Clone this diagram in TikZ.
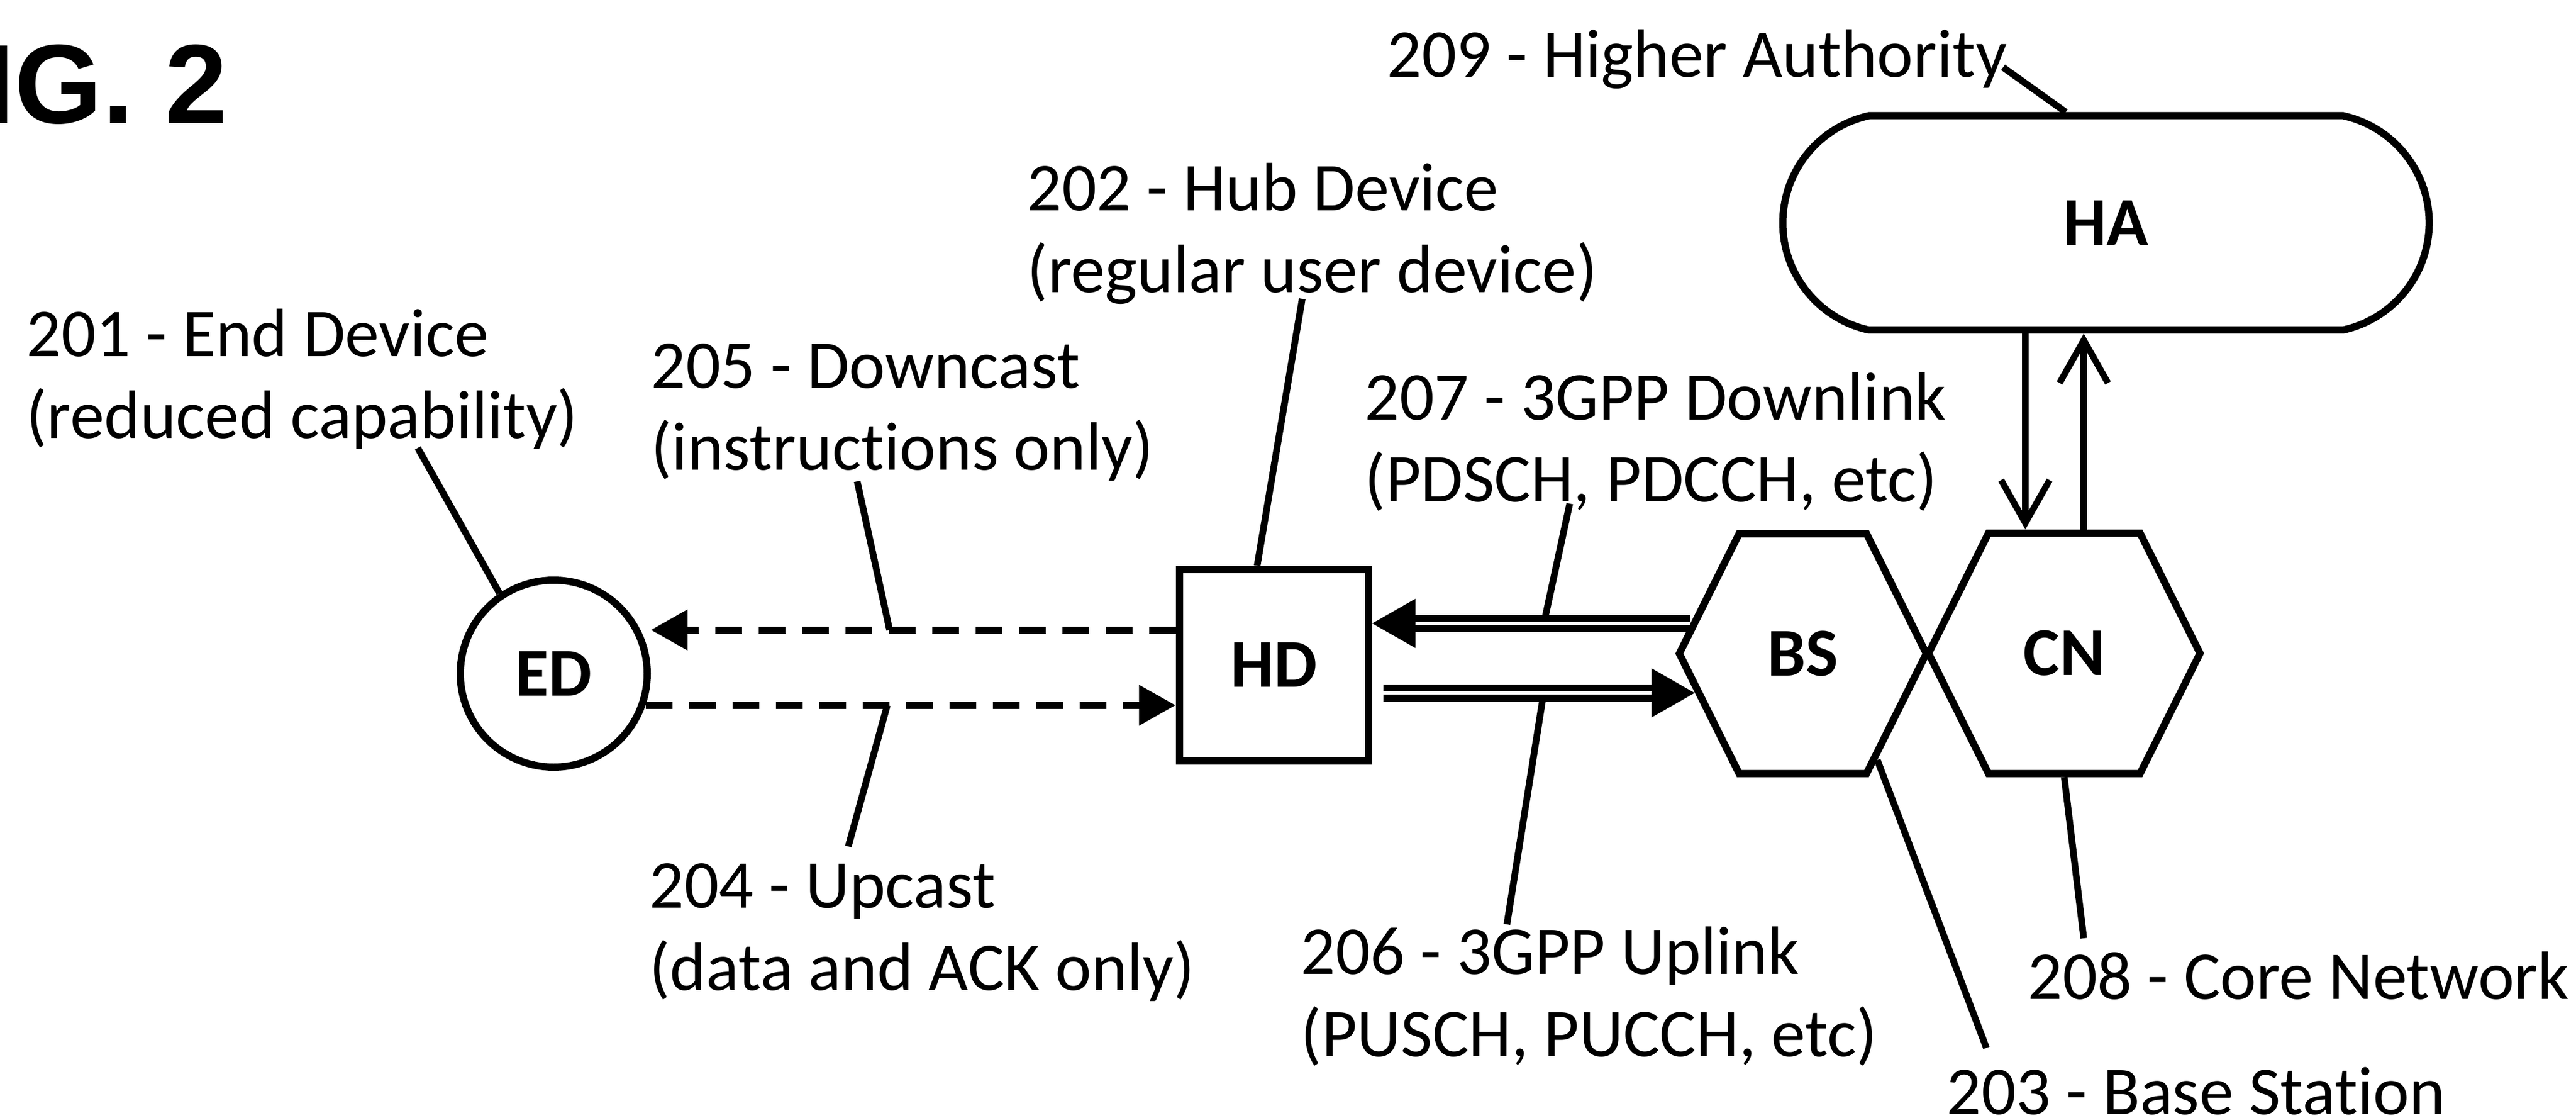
\documentclass[tikz,border=0pt]{standalone}
\usepackage{fontspec}
\setmainfont{Carlito}[Ligatures={NoCommon}]
\newfontfamily\figfont{Liberation Sans}
\usetikzlibrary{arrows.meta,shapes.misc,shapes.symbols}
\begin{document}
\begin{tikzpicture}[line join=miter]
        \tikzstyle{device}=[draw=black,line width=1.3mm,inner sep=0pt,font=\fontsize{35}{42}\selectfont\bfseries]
        \tikzstyle{hexa}=[device,signal,signal to=west and east,signal pointer angle=127]
        \tikzstyle{reftext}=[anchor=base west,align=left,inner sep=0pt,font=\fontsize{35}{42}\selectfont]
        \tikzstyle{leader}=[draw,line width=1.2mm]
        \tikzstyle{dashlink}=[draw,line width=1.3mm,dash pattern=on 4.8mm off 3mm,-{Triangle[length=6.6mm,width=7mm]}]
        \tikzstyle{radiolink}=[draw,double,line width=1.25mm,double distance=0.6mm,-{Triangle[length=7.8mm,width=8.5mm]}]
        \tikzstyle{corelink}=[draw,line width=1.15mm,-{Straight Barb[length=7.7mm,width=8.7mm]}]
       \useasboundingbox (0,0) rectangle (46.31,20.08);
       \begin{scope}
         \node [anchor=base west,inner sep=0pt,font=\figfont\bfseries\fontsize{57.6}{60}\selectfont] (fig) at (-0.30,17.86) {IG. 2};
         % devices
         \node [device,circle,minimum size=3.36cm] (ed) at (9.955,7.975) {ED};
         \node [device,rectangle,minimum width=3.40cm,minimum height=3.44cm] (hd) at (22.90,8.13) {HD};
         \node [hexa,minimum width=4.44cm,minimum height=4.31cm] (bs) at (32.41,8.335) {BS};
         \node [hexa,minimum width=4.88cm,minimum height=4.32cm] (cn) at (37.11,8.34) {CN};
         \node [device,rounded rectangle,rounded rectangle arc length=155,minimum width=11.62cm,minimum height=3.85cm] (ha) at (37.86,16.075) {HA};
         % reference texts
         \node [reftext] (t201) at (0.47,12.20) {201 - End Device\\(reduced capability)};
         \node [reftext] (t202) at (18.46,14.82) {202 - Hub Device\\(regular user device)};
         \node [reftext] (t203) at (34.99,0.06) {203 - Base Station};
         \node [reftext] (t204) at (11.67,2.29) {204 - Upcast\\(data and ACK only)};
         \node [reftext] (t205) at (11.70,11.63) {205 - Downcast\\(instructions only)};
         \node [reftext] (t206) at (23.38,1.10) {206 - 3GPP Uplink\\(PUSCH, PUCCH, etc)};
         \node [reftext] (t207) at (24.53,11.06) {207 - 3GPP Downlink\\(PDSCH, PDCCH, etc)};
         \node [reftext] (t208) at (36.45,2.13) {208 - Core Network};
         \node [reftext] (t209) at (24.93,18.69) {209 - Higher Authority};
         % free ends of the leaders
         \coordinate (c201) at (7.51,12.03);
         \coordinate (c202) at (23.41,14.71);
         \coordinate (c203) at (35.71,1.25);
         \coordinate (c204) at (15.25,4.87);
         \coordinate (c205) at (15.41,11.43);
         \coordinate (c206) at (27.09,3.47);
         \coordinate (c207) at (28.22,11.03);
         \coordinate (c208) at (37.46,3.22);
         \coordinate (c209) at (36.01,18.87);
         \coordinate (ydown) at (0,8.76);
         % points on the links
         \path (hd.west |- ydown) -- coordinate[pos=0.545] (m205) (ed.east |- ydown);
         \path (ed.-19.5) -- coordinate[pos=0.456] (m204) (hd.west |- ed.-19.5);
         \path (bs.165.65) -- coordinate[pos=0.46] (m207) (hd.east |- bs.165.65);
         \path ([xshift=2mm]hd.east |- bs.200) -- coordinate[pos=0.515] (m206) (bs.200);
         % leaders
         \path[leader] (c201) -- (ed.124);
         \path[leader] (c202) -- ([xshift=-3mm]hd.north);
         \path[leader] (c203) -- (bs.-55);
         \path[leader] (c204) -- (m204);
         \path[leader] (c205) -- (m205);
         \path[leader] (c206) -- (m206);
         \path[leader] (c207) -- (m207);
         \path[leader] (c208) -- (cn.south);
         \path[leader] (c209) -- (ha.110.5);
         % links
         \path[dashlink] (hd.west |- ydown) -- (ed.east |- ydown);
         \path[dashlink] (ed.-19.5) -- (hd.west |- ed.-19.5);
         \path[radiolink] (bs.165.65) -- (hd.east |- bs.165.65);
         \path[radiolink] ([xshift=2mm]hd.east |- bs.200) -- (bs.200);
         \path[corelink] ([xshift=-7mm]cn.north |- ha.south) -- ([xshift=-7mm]cn.north);
         \path[corelink] ([xshift=3.5mm]cn.north) -- ([xshift=3.5mm]cn.north |- ha.south);
        \end{scope}
      \end{tikzpicture}
\end{document}
